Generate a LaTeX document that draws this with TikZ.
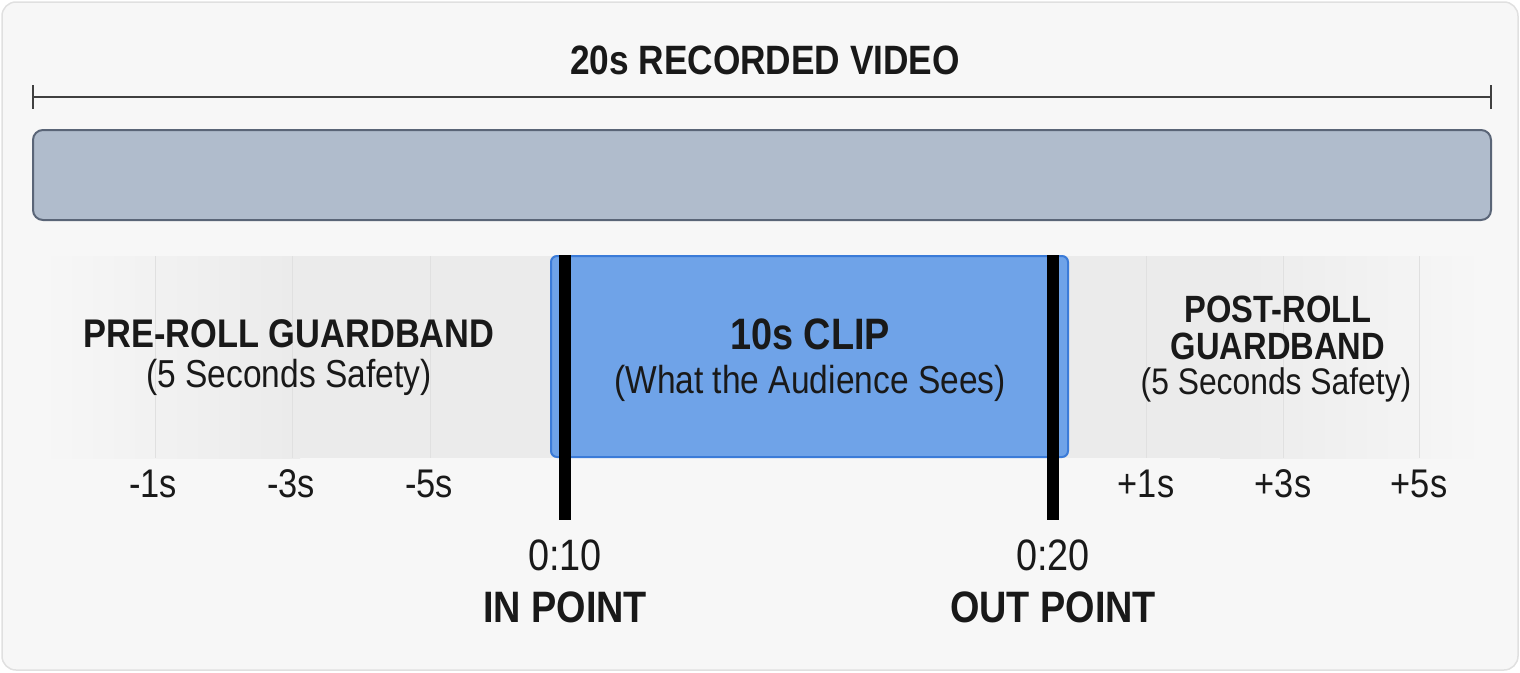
\documentclass[tikz,border=0pt]{standalone}
\usepackage{fontspec}
\setmainfont[FakeStretch=0.86]{Liberation Sans}
\definecolor{barfill}{HTML}{B0BCCC}
\definecolor{bardraw}{HTML}{5A6577}
\definecolor{clipfill}{HTML}{6FA3E8}
\definecolor{clipdraw}{HTML}{3B7BD8}
\begin{document}
\begin{tikzpicture}[x=1pt,y=-1pt,
  lbl/.style={inner sep=0pt,align=center,text=black!90},
  bold/.style={lbl,font=\fontsize{42}{44}\selectfont\bfseries},
  reg/.style={lbl,font=\fontsize{39}{41}\selectfont},
  tick/.style={lbl,font=\fontsize{40}{42}\selectfont},
  tc/.style={lbl,font=\fontsize{44}{46}\selectfont},
  marker/.style={line width=12pt,black}]
\useasboundingbox (0,0) rectangle (1520,672);
\fill[rounded corners=14pt,fill=black!3,draw=black!12,line width=1.5pt] (2,2) rectangle (1518,670);
% title and dimension
\node[bold,font=\fontsize{41}{43}\selectfont\bfseries] (title) at (765,60) {20s RECORDED VIDEO};
\coordinate (dl) at (33,97); \coordinate (dr) at (1491,97);
\draw[line width=1.6pt,black!75] (dl) -- (dr);
\draw[line width=1.6pt,black!75] (33,85) -- (33,109) (1491,85) -- (1491,109);
% recorded bar
\node[draw=bardraw,fill=barfill,line width=2pt,rounded corners=10pt,minimum width=1458pt,minimum height=90pt,inner sep=0pt] (bar) at (762,175) {};
% guardband
\shade[left color=black!3,right color=black!8] (33,256) rectangle (300,458);
\fill[black!8] (300,256) rectangle (1220,458);
\shade[left color=black!8,right color=black!3] (1220,256) rectangle (1491,458);
\foreach \x in {155,292,430,1146,1283,1419}
  \draw[black!12,line width=0.8pt] (\x,256) -- (\x,458);
% clip
\node[draw=clipdraw,fill=clipfill,line width=2pt,rounded corners=6pt,minimum width=517pt,minimum height=201pt,inner sep=0pt] (clip) at (809.5,356.5) {};
\node[bold,font=\fontsize{44}{46}\selectfont\bfseries] (cliptitle) at (810,334) {10s CLIP};
\node[reg] (clipsub) at (810,383) {(What the Audience Sees)};
% markers
\coordinate (int) at (565,255); \coordinate (inb) at (565,520);
\coordinate (outt) at (1053,255); \coordinate (outb) at (1053,520);
\draw[marker] (int) -- (inb);
\draw[marker] (outt) -- (outb);
% texts
\node[bold,font=\fontsize{40}{42}\selectfont\bfseries] (pre) at (289,334) {PRE-ROLL GUARDBAND};
\node[reg] (presub) at (289,377) {(5 Seconds Safety)};
\node[bold,font=\fontsize{38}{40}\selectfont\bfseries] (post1) at (1278,309) {POST-ROLL};
\node[bold,font=\fontsize{38}{40}\selectfont\bfseries] (post2) at (1278,346) {GUARDBAND};
\node[reg,font=\fontsize{37}{39}\selectfont] (postsub) at (1276,385) {(5 Seconds Safety)};
\node[tick] (t1) at (153,484) {-1s};
\node[tick] (t3) at (291,484) {-3s};
\node[tick] (t5) at (429,484) {-5s};
\node[tick] (p1) at (1146,484) {+1s};
\node[tick] (p3) at (1283,484) {+3s};
\node[tick] (p5) at (1419,484) {+5s};
\node[tc] (tin) at (565,555) {0:10};
\node[bold,font=\fontsize{44}{46}\selectfont\bfseries] (lin) at (565,607) {IN POINT};
\node[tc] (tout) at (1053,555) {0:20};
\node[bold,font=\fontsize{44}{46}\selectfont\bfseries] (lout) at (1053,607) {OUT POINT};
\end{tikzpicture}
\end{document}
